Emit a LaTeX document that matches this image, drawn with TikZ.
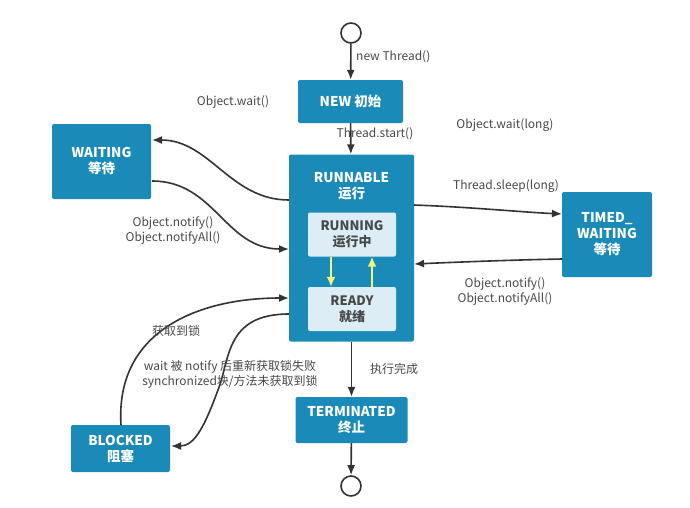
\documentclass[tikz,border=0pt]{standalone}
\usepackage{fontspec}
\setmainfont{Noto Sans CJK SC}
\usetikzlibrary{arrows.meta}
\definecolor{boxblue}{HTML}{1A8BB9}
\definecolor{innerblue}{HTML}{DCEDF5}
\definecolor{lbl}{HTML}{484848}
\definecolor{ylw}{HTML}{F4F47A}
\definecolor{edge}{HTML}{333333}
\tikzset{
  state/.style={fill=boxblue, rounded corners=2pt, text=white, font=\bfseries\fontsize{13.5}{16}\selectfont, align=center, inner sep=0pt},
  inner/.style={fill=innerblue, rounded corners=2pt, text=lbl, font=\bfseries\fontsize{13}{16}\selectfont, align=center, inner sep=0pt},
  conn/.style={draw=edge, line width=1.6pt, -{Latex[length=10pt,width=8pt]}},
  yconn/.style={draw=ylw, line width=1.8pt, -{Latex[length=10pt,width=9pt]}},
  lab/.style={text=lbl, font=\fontsize{12}{15}\selectfont, align=center, inner sep=1pt},
  endpt/.style={circle, draw=edge, line width=1.6pt, fill=white, minimum size=20pt, inner sep=0pt}
}
\begin{document}
\begin{tikzpicture}[x=1pt,y=-1pt]
\useasboundingbox (0,0) rectangle (690,507);
% boxes
\node[state, minimum width=105pt, minimum height=43pt] (new) at (350.5,101.5) {NEW 初始};
\node[state, minimum width=125pt, minimum height=187pt] (run) at (351.5,248) {};
\node[state, anchor=north] (runlabel) at (351.5,172) {RUNNABLE\\运行};
\node[inner, minimum width=88pt, minimum height=44pt] (running) at (352,234.5) {RUNNING\\运行中};
\node[inner, minimum width=88pt, minimum height=44pt] (ready) at (352,309) {READY\\就绪};
\node[state, minimum width=99pt, minimum height=75pt] (waiting) at (101.5,161.5) {WAITING\\等待};
\node[state, minimum width=90pt, minimum height=85pt] (timed) at (607,234.5) {TIMED\_\\WAITING\\等待};
\node[state, minimum width=99pt, minimum height=47pt] (blocked) at (120.5,448.5) {BLOCKED\\阻塞};
\node[state, minimum width=112pt, minimum height=46pt] (term) at (351.5,420) {TERMINATED\\终止};
\node[endpt] (start) at (351,33) {};
\node[endpt] (stop) at (351,486) {};
% coordinates on box borders
\coordinate (r1) at (289,200);
\coordinate (r2) at (289,249);
\coordinate (r3) at (289,298);
\coordinate (r4) at (289,314);
\coordinate (r5) at (414,205);
\coordinate (r6) at (414,264);
\coordinate (w1) at (152,140);
\coordinate (w2) at (152,181);
\coordinate (t1) at (562,214);
\coordinate (t2) at (562,259);
\coordinate (b1) at (121,425);
\coordinate (b2) at (171,446);
% connectors
\draw[conn] (start) -- (new);
\draw[conn] (new) -- (run);
\draw[conn] (run.south) -- (term);
\draw[conn] (term) -- (stop);
\draw[yconn] (running.south -| 331,0) -- (ready.north -| 331,0);
\draw[yconn] (ready.north -| 372,0) -- (running.south -| 372,0);
\draw[conn] (r1) .. controls (230,200) and (210,140) .. (w1);
\draw[conn] (w2) .. controls (215,181) and (225,249) .. (r2);
\draw[conn] (r5) .. controls (470,207) and (520,212) .. (t1);
\draw[conn] (t2) .. controls (510,260) and (460,262) .. (r6);
\draw[conn] (b1) .. controls (115,330) and (200,298) .. (r3);
\draw[conn] (r4) .. controls (225,314) and (230,360) .. (218,390) .. controls (205,425) and (195,446) .. (b2);
% labels
\node[lab, anchor=west] (l1) at (355,57) {new Thread()};
\node[lab] (l2) at (233,102) {Object.wait()};
\node[lab] (l3) at (375,134) {Thread.start()};
\node[lab] (l4) at (505,125) {Object.wait(long)};
\node[lab] (l5) at (506,186) {Thread.sleep(long)};
\node[lab] (l6) at (173,231) {Object.notify()\\Object.notifyAll()};
\node[lab] (l7) at (505,292) {Object.notify()\\Object.notifyAll()};
\node[lab] (l8) at (176,331) {获取到锁};
\node[lab] (l9) at (230,374) {wait 被 notify 后重新获取锁失败\\synchronized块/方法未获取到锁};
\node[lab] (l10) at (394,369) {执行完成};
\end{tikzpicture}
\end{document}
